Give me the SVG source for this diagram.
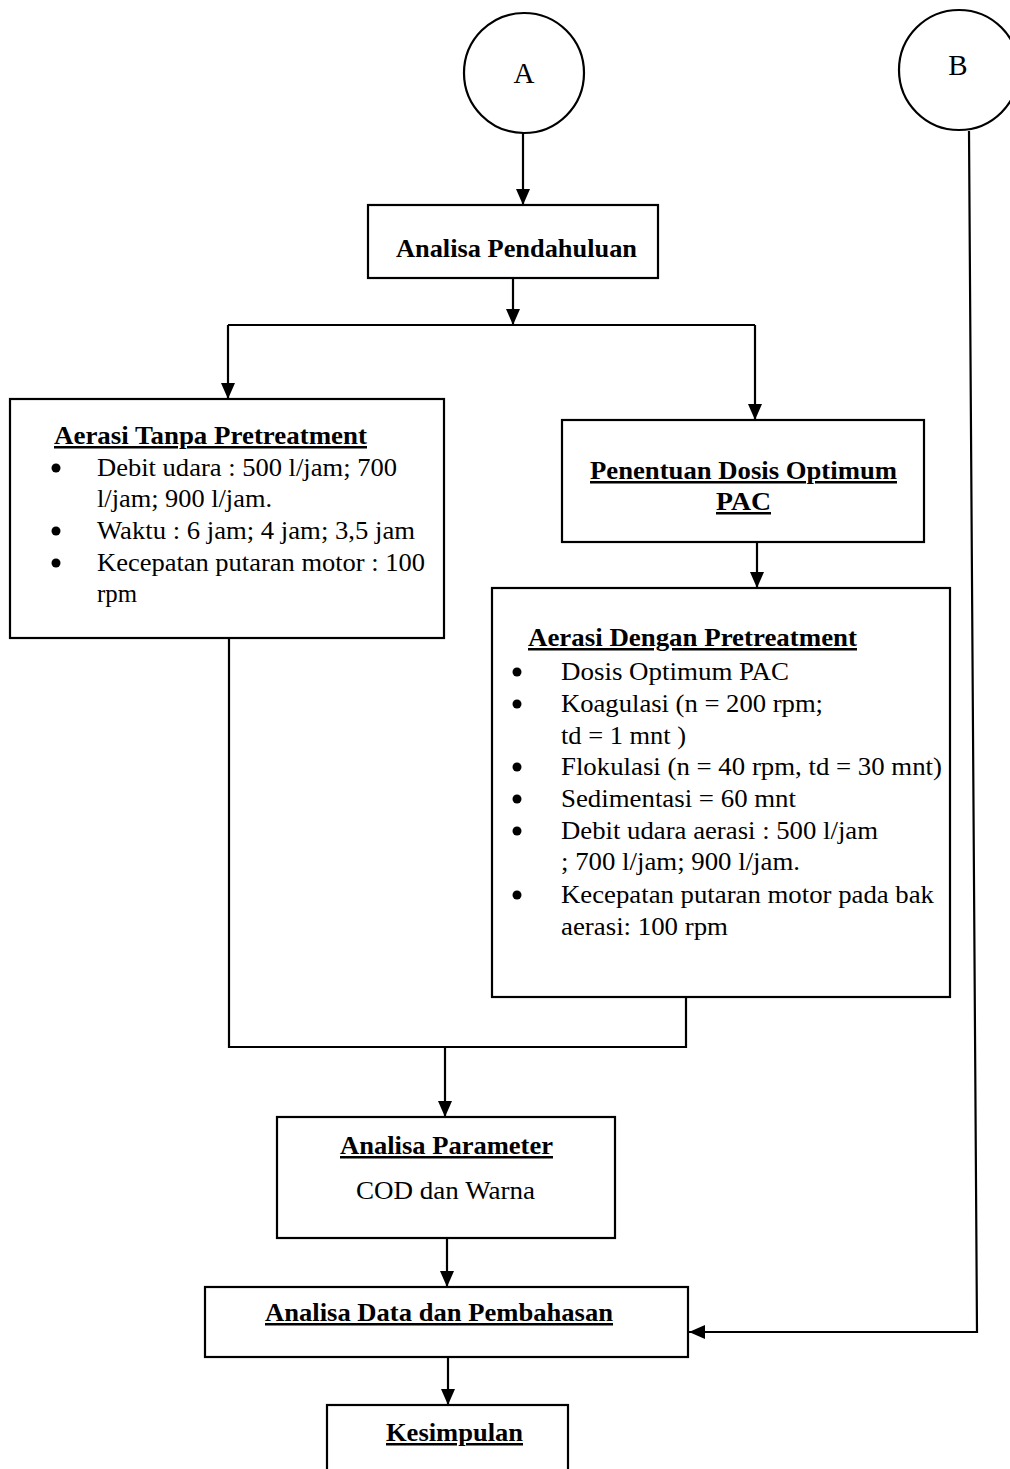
<svg xmlns="http://www.w3.org/2000/svg" width="1010" height="1469" viewBox="0 0 1010 1469">
<style>
.box{fill:#fff;stroke:#000;stroke-width:2.2}
.ln{fill:none;stroke:#000;stroke-width:2.2}
.t{font-family:"Liberation Serif","Times New Roman",serif;font-size:25px;fill:#000}
.b{font-weight:bold;text-decoration:underline}
.c{font-size:29px}
.dot{fill:#000}
</style>
<defs>
<marker id="ah" markerUnits="userSpaceOnUse" markerWidth="18" markerHeight="16" refX="16" refY="7" orient="auto">
<path d="M0,0 L16,7 L0,14 Z" fill="#000"/>
</marker>
</defs>
<rect width="1010" height="1469" fill="#fff"/>

<g id="connectors">
<line class="ln" x1="523" y1="133" x2="523" y2="205" marker-end="url(#ah)"/>
<line class="ln" x1="513" y1="278" x2="513" y2="325" marker-end="url(#ah)"/>
<line class="ln" x1="228" y1="325" x2="755" y2="325"/>
<line class="ln" x1="228" y1="325" x2="228" y2="399" marker-end="url(#ah)"/>
<line class="ln" x1="755" y1="325" x2="755" y2="420" marker-end="url(#ah)"/>
<line class="ln" x1="757" y1="542" x2="757" y2="588" marker-end="url(#ah)"/>
<polyline class="ln" points="229,638 229,1047 686,1047 686,997"/>
<line class="ln" x1="445" y1="1047" x2="445" y2="1117" marker-end="url(#ah)"/>
<line class="ln" x1="447" y1="1238" x2="447" y2="1287" marker-end="url(#ah)"/>
<line class="ln" x1="448" y1="1357" x2="448" y2="1405" marker-end="url(#ah)"/>
<polyline class="ln" points="969,131 977,1332 689,1332" marker-end="url(#ah)"/>
</g>

<g id="nodeA">
<circle class="box" cx="524" cy="73" r="60"/>
<text class="t c" x="524" y="83" text-anchor="middle">A</text>
</g>

<g id="nodeB">
<circle class="box" cx="959" cy="70" r="60"/>
<text class="t c" x="958" y="75" text-anchor="middle">B</text>
</g>

<g id="analisaPendahuluan">
<rect class="box" x="368" y="205" width="290" height="73"/>
<text class="t" style="font-weight:bold" x="396" y="257" textLength="241" lengthAdjust="spacingAndGlyphs">Analisa Pendahuluan</text>
</g>

<g id="aerasiTanpa">
<rect class="box" x="10" y="399" width="434" height="239"/>
<text class="t b" x="54" y="444" textLength="313" lengthAdjust="spacingAndGlyphs">Aerasi Tanpa Pretreatment</text>
<circle class="dot" cx="56" cy="468" r="4.5"/>
<text class="t" x="97" y="476" textLength="300" lengthAdjust="spacingAndGlyphs">Debit udara : 500 l/jam; 700</text>
<text class="t" x="97" y="507" textLength="175" lengthAdjust="spacingAndGlyphs">l/jam; 900 l/jam.</text>
<circle class="dot" cx="56" cy="531" r="4.5"/>
<text class="t" x="97" y="539" textLength="318" lengthAdjust="spacingAndGlyphs">Waktu : 6 jam; 4 jam; 3,5 jam</text>
<circle class="dot" cx="56" cy="563" r="4.5"/>
<text class="t" x="97" y="571" textLength="328" lengthAdjust="spacingAndGlyphs">Kecepatan putaran motor : 100</text>
<text class="t" x="97" y="602" textLength="40" lengthAdjust="spacingAndGlyphs">rpm</text>
</g>

<g id="penentuanDosis">
<rect class="box" x="562" y="420" width="362" height="122"/>
<text class="t b" x="590" y="479" textLength="307" lengthAdjust="spacingAndGlyphs">Penentuan Dosis Optimum</text>
<text class="t b" x="716" y="510" textLength="55" lengthAdjust="spacingAndGlyphs">PAC</text>
</g>

<g id="aerasiDengan">
<rect class="box" x="492" y="588" width="458" height="409"/>
<text class="t b" x="528" y="646" textLength="329" lengthAdjust="spacingAndGlyphs">Aerasi Dengan Pretreatment</text>
<circle class="dot" cx="517" cy="672" r="4.5"/>
<text class="t" x="561" y="680" textLength="228" lengthAdjust="spacingAndGlyphs">Dosis Optimum PAC</text>
<circle class="dot" cx="517" cy="704" r="4.5"/>
<text class="t" x="561" y="712" textLength="262" lengthAdjust="spacingAndGlyphs">Koagulasi (n = 200 rpm;</text>
<text class="t" x="561" y="744" textLength="125" lengthAdjust="spacingAndGlyphs">td = 1 mnt )</text>
<circle class="dot" cx="517" cy="767" r="4.5"/>
<text class="t" x="561" y="775" textLength="381" lengthAdjust="spacingAndGlyphs">Flokulasi (n = 40 rpm, td = 30 mnt)</text>
<circle class="dot" cx="517" cy="799" r="4.5"/>
<text class="t" x="561" y="807" textLength="235" lengthAdjust="spacingAndGlyphs">Sedimentasi = 60 mnt</text>
<circle class="dot" cx="517" cy="831" r="4.5"/>
<text class="t" x="561" y="839" textLength="317" lengthAdjust="spacingAndGlyphs">Debit udara aerasi : 500 l/jam</text>
<text class="t" x="561" y="870" textLength="239" lengthAdjust="spacingAndGlyphs">; 700 l/jam; 900 l/jam.</text>
<circle class="dot" cx="517" cy="895" r="4.5"/>
<text class="t" x="561" y="903" textLength="373" lengthAdjust="spacingAndGlyphs">Kecepatan putaran motor pada bak</text>
<text class="t" x="561" y="935" textLength="167" lengthAdjust="spacingAndGlyphs">aerasi: 100 rpm</text>
</g>

<g id="analisaParameter">
<rect class="box" x="277" y="1117" width="338" height="121"/>
<text class="t b" x="340" y="1154" textLength="213" lengthAdjust="spacingAndGlyphs">Analisa Parameter</text>
<text class="t" x="356" y="1199" textLength="179" lengthAdjust="spacingAndGlyphs">COD dan Warna</text>
</g>

<g id="analisaData">
<rect class="box" x="205" y="1287" width="483" height="70"/>
<text class="t b" x="265" y="1321" textLength="348" lengthAdjust="spacingAndGlyphs">Analisa Data dan Pembahasan</text>
</g>

<g id="kesimpulan">
<rect class="box" x="327" y="1405" width="241" height="80"/>
<text class="t b" x="386" y="1441" textLength="137" lengthAdjust="spacingAndGlyphs">Kesimpulan</text>
</g>
</svg>
